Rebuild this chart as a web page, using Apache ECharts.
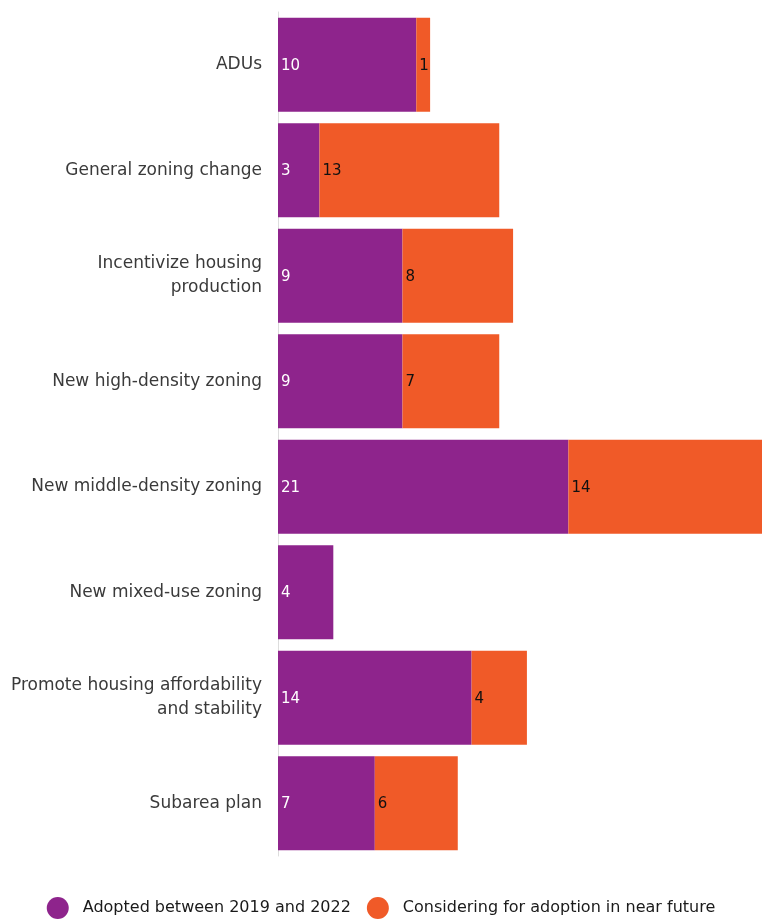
<!DOCTYPE html>
<html><head><meta charset="utf-8">
<script src="https://cdn.jsdelivr.net/npm/echarts@6/dist/echarts.min.js"></script>
<style>html,body{margin:0;padding:0;background:#fff}#c{width:762px;height:919px}</style>
</head><body><div id="c"></div>
<script>
const categories = ["ADUs","General zoning change","Incentivize housing\nproduction","New high-density zoning","New middle-density zoning","New mixed-use zoning","Promote housing affordability\nand stability","Subarea plan"];
const adopted = [10,3,9,9,21,4,14,7];
const considering = [1,13,8,7,14,null,4,6];
const seriesNames = ["Adopted between 2019 and 2022","Considering for adoption in near future"];
const FONT = "'DejaVu Sans', sans-serif";
const chart = echarts.init(document.getElementById('c'), null, {renderer:'canvas'});
chart.setOption({
  animation:false,
  textStyle:{fontFamily:FONT},
  grid:{left:278,right:0,top:12,bottom:63,containLabel:false},
  xAxis:{type:'value',min:0,max:35,show:false},
  yAxis:{type:'category',data:categories,inverse:true,
    axisLine:{show:true,lineStyle:{color:'#dddddd',width:1}},
    axisTick:{show:false},
    axisLabel:{fontSize:17,color:'#3a3a3a',margin:16,lineHeight:24,fontFamily:FONT}},
  legend:{bottom:0,padding:0,left:'center',icon:'circle',itemWidth:22,itemHeight:22,itemGap:16,
    textStyle:{fontSize:16,color:'#1a1a1a',fontFamily:FONT,padding:[0,0,0,9]},data:seriesNames},
  series:[
    {name:seriesNames[0],type:'bar',stack:'a',data:adopted,barCategoryGap:'11%',
     itemStyle:{color:'#8E248C'},
     label:{show:true,position:'insideLeft',distance:3,color:'#ffffff',fontSize:15,fontFamily:FONT,offset:[0,1]}},
    {name:seriesNames[1],type:'bar',stack:'a',data:considering,barCategoryGap:'11%',
     itemStyle:{color:'#F05A28'},
     label:{show:true,position:'insideLeft',distance:3,color:'#111111',fontSize:15,fontFamily:FONT,offset:[0,1]}}
  ]
});
</script></body></html>
